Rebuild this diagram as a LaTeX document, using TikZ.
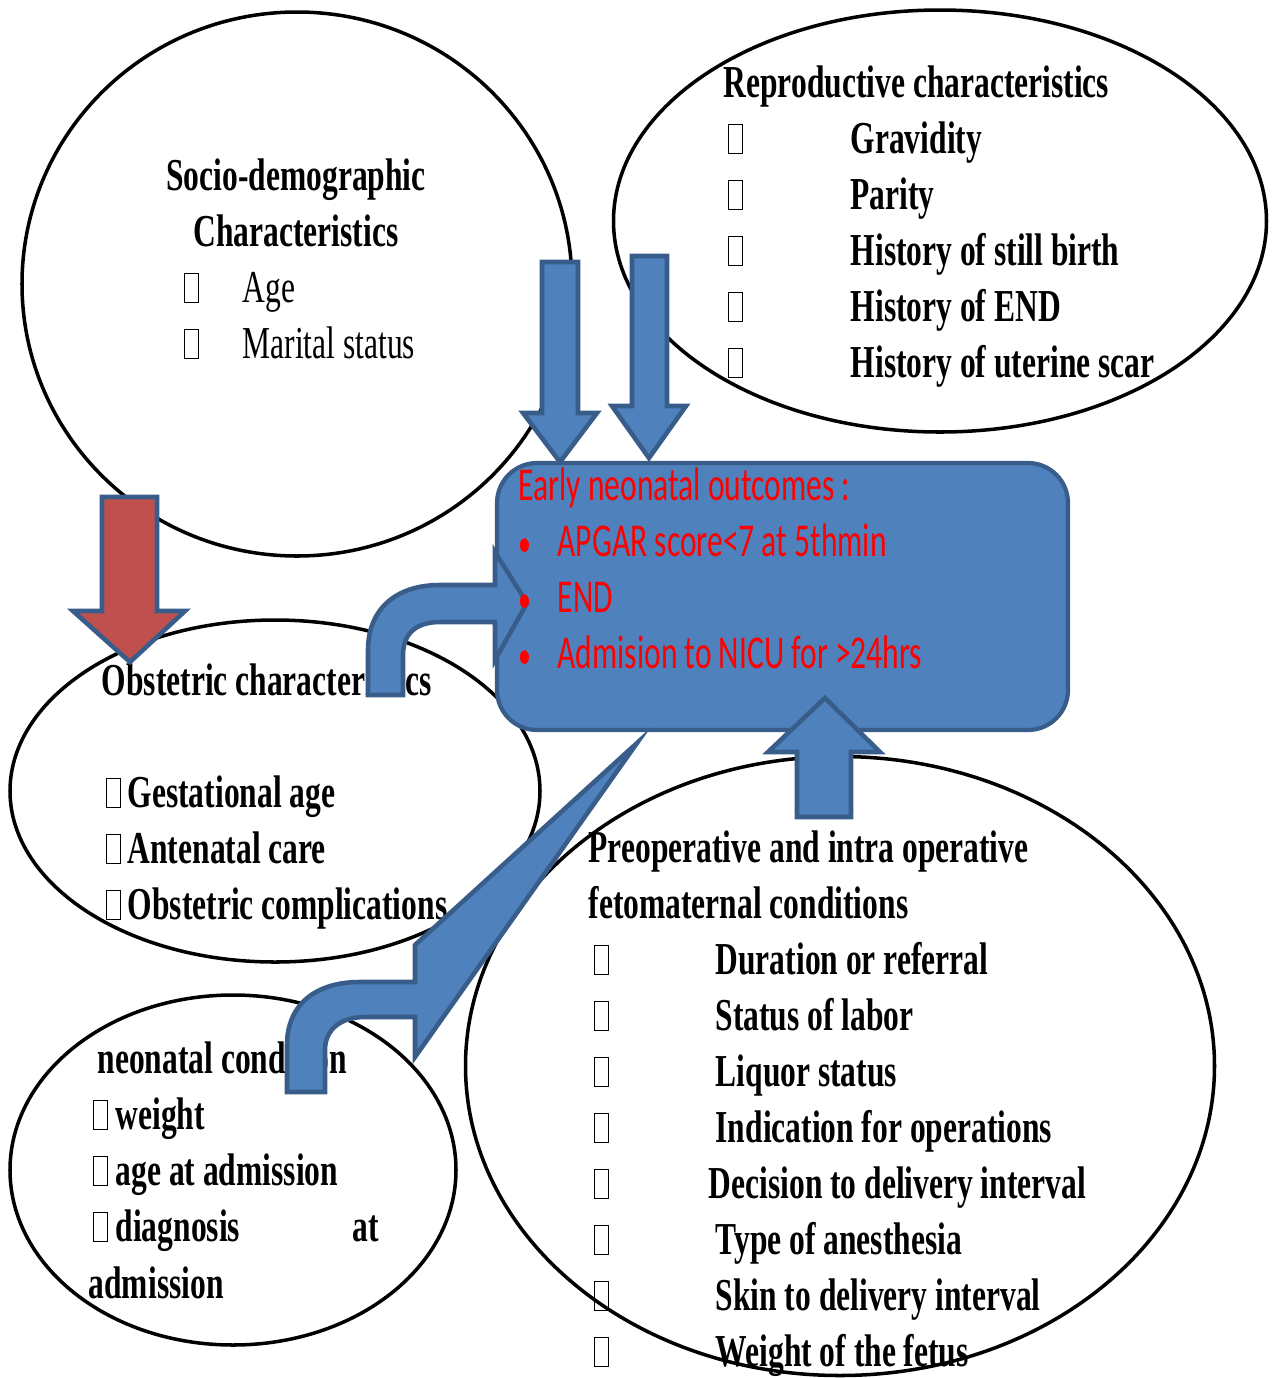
\documentclass[tikz,border=0pt]{standalone}
\usepackage{fontspec}
\setmainfont{Liberation Serif}[FakeStretch=0.69]
\newfontfamily\outfont{Carlito}[FakeStretch=0.67]
\usetikzlibrary{shapes.geometric,positioning}

\definecolor{boxblue}{RGB}{79,129,189}
\definecolor{edgeblue}{RGB}{56,93,138}
\definecolor{arrowred}{RGB}{192,80,77}

% empty glyph box
\newcommand{\gl}{{\setlength{\fboxsep}{0pt}\setlength{\fboxrule}{0.3pt}\fbox{\rule{0pt}{2.8mm}\hspace{1.3mm}}}}

\tikzset{
  oval/.style={draw, ellipse, line width=1pt, inner sep=0pt},
  plain/.style={anchor=base west, inner sep=0pt, font=\fontsize{13}{15}\selectfont},
  bold/.style={plain, font=\fontsize{13}{15}\selectfont\bfseries},
  outtxt/.style={anchor=base west, inner sep=0pt, text=red, font=\fontsize{13.4}{15}\selectfont\outfont},
  blockarrow/.style={fill=boxblue, draw=edgeblue, line width=1.3pt},
  redarrow/.style={blockarrow, fill=arrowred}
}

\begin{document}
\begin{tikzpicture}[x=0.1mm,y=-0.1mm]
  \useasboundingbox (0,0) rectangle (1277,1378);

  % ovals
  \node[oval, minimum width=55mm, minimum height=54.4mm] (socio) at (297,284) {};
  \node[oval, minimum width=65.3mm, minimum height=42.2mm] (repro) at (940,221) {};
  \node[oval, minimum width=53mm, minimum height=34.2mm] (obst) at (275,791) {};
  \node[oval, minimum width=44.6mm, minimum height=35mm] (neo) at (233,1170) {};
  \node[oval, minimum width=74.9mm, minimum height=61.9mm] (preop) at (840,1066) {};

  % socio-demographic
  \node[bold, anchor=base] (soc1) at (296,190) {Socio-demographic};
  \node[bold, anchor=base] (soc2) at (296,246) {Characteristics};
  \foreach \t [count=\i] in {Age, Marital status} {
    \node[plain] (socb\i) at (183,246+56*\i) {\gl};
    \node[plain] (soci\i) at (242,246+56*\i) {\t};
  }

  % reproductive
  \node[bold] (rep) at (723,97) {Reproductive characteristics};
  \foreach \t [count=\i] in {Gravidity, Parity, History of still birth, History of END, History of uterine scar} {
    \node[bold] (repb\i) at (727,97+56*\i) {\gl};
    \node[bold] (repi\i) at (850,97+56*\i) {\t};
  }

  % obstetric
  \node[bold] (obs) at (101,695) {Obstetric characteristics};
  \foreach \t [count=\i] in {Gestational age, Antenatal care, Obstetric complications} {
    \node[bold] (obsb\i) at (105,751+56*\i) {\gl};
    \node[bold] (obsi\i) at (127,751+56*\i) {\t};
  }

  % neonatal condition
  \node[bold] (neo0) at (97,1073) {neonatal condition};
  \foreach \t [count=\i] in {weight, age at admission, diagnosis} {
    \node[bold] (neob\i) at (92,1073+56*\i) {\gl};
    \node[bold] (neoi\i) at (115,1073+56*\i) {\t};
  }
  \node[bold] (neoat) at (352,1241) {at};
  \node[bold] (neoadm) at (88,1298) {admission};

  % preoperative
  \node[bold] (pre1) at (588,862) {Preoperative and intra operative};
  \node[bold] (pre2) at (588,918) {fetomaternal conditions};
  \foreach \t/\x [count=\i] in {Duration or referral/715, Status of labor/715, Liquor status/715,
      Indication for operations/715, Decision to delivery interval/708, Type of anesthesia/715,
      Skin to delivery interval/715, Weight of the fetus/715} {
    \node[bold] (preb\i) at (593,918+56*\i) {\gl};
    \node[bold] (prei\i) at (\x,918+56*\i) {\t};
  }

  % outcome box
  \node[draw=edgeblue, fill=boxblue, line width=1.2pt, rounded corners=4mm,
        minimum width=57.1mm, minimum height=26.7mm] (outcome) at (782.5,596.5) {};

  % arrows
  \draw[blockarrow] (542,262) -- (578,262) -- (578,413) -- (597,413) -- (560,462)
    -- (523,413) -- (542,413) -- cycle;
  \draw[blockarrow] (632,256) -- (667,256) -- (667,406) -- (686,406) -- (649,458)
    -- (612,406) -- (632,406) -- cycle;
  \draw[blockarrow] (797,817) -- (797,752) -- (768,752) -- (825,698) -- (880,752)
    -- (851,752) -- (851,817) -- cycle;
  \draw[redarrow] (102,497) -- (157,497) -- (157,611) -- (185,611) -- (130,662)
    -- (73,611) -- (102,611) -- cycle;
  \draw[blockarrow] (368,695) -- (368,650) .. controls (368,610) and (395,585) .. (440,585)
    -- (495,585) -- (495,552) -- (527,603) -- (495,660) -- (495,622) -- (440,622)
    .. controls (418,622) and (403,632) .. (403,655) -- (403,695) -- cycle;
  \draw[blockarrow] (287,1092) -- (287,1045) .. controls (287,1005) and (315,982) .. (360,982)
    -- (415,982) -- (415,945) -- (637,743) -- (415,1057) -- (415,1017) -- (365,1017)
    .. controls (340,1017) and (325,1030) .. (325,1050) -- (325,1092) -- cycle;

  % outcome text
  \node[outtxt] (out0) at (518,500) {Early neonatal outcomes :};
  \foreach \t [count=\i] in {APGAR score<7 at 5thmin, END, Admision to NICU for >24hrs} {
    \node[outtxt, font=\fontsize{11}{13}\selectfont\outfont] (outb\i) at (518,500+56*\i) {•};
    \node[outtxt] (outi\i) at (557,500+56*\i) {\t};
  }
\end{tikzpicture}
\end{document}
